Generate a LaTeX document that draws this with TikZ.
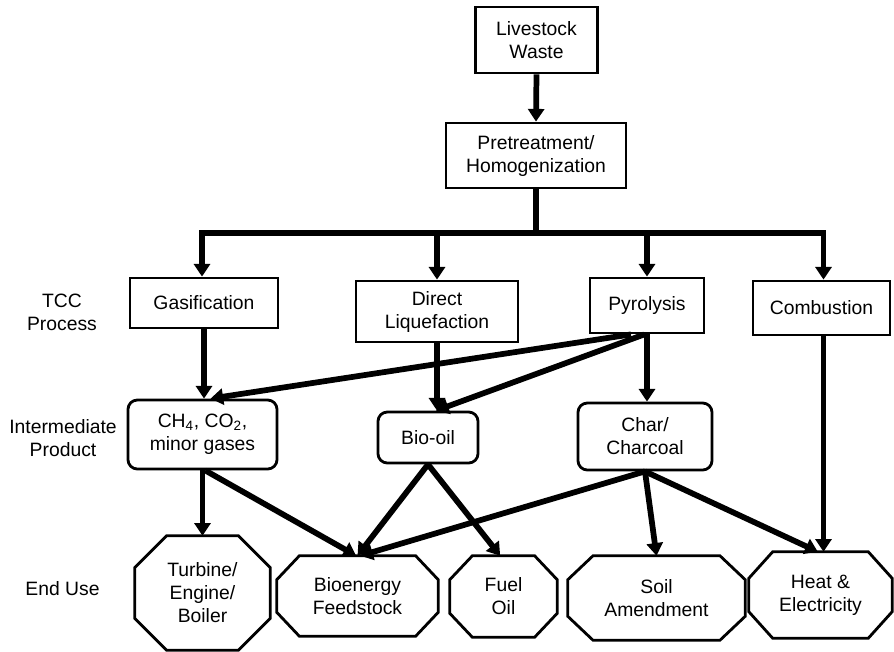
\documentclass[tikz,border=0pt]{standalone}
\usepackage{fontspec}
\setmainfont{Liberation Sans}
\usetikzlibrary{arrows.meta}

\tikzset{
  boxline/.style={line width=2.1pt, line join=miter},
  procbox/.style={draw, boxline},
  prodbox/.style={draw, boxline, rounded corners=7pt},
  usebox/.style={},
  conn/.style={line width=4.3pt, -{Triangle[width=12pt,length=9.5pt]}},
  plain/.style={line width=4.3pt},
  rowlabel/.style={}
}

% outline of an end-use node: rectangle with cut corners
\newcommand\cutbox[3]{%
  \draw[boxline] ([xshift=#2]#1.north west) -- ([xshift=-#2]#1.north east)
    -- ([yshift=-#3]#1.north east) -- ([yshift=#3]#1.south east)
    -- ([xshift=-#2]#1.south east) -- ([xshift=#2]#1.south west)
    -- ([yshift=#3]#1.south west) -- ([yshift=-#3]#1.north west) -- cycle;}

\begin{document}
\begin{tikzpicture}[x=0.75pt,y=-0.75pt,
  every node/.style={font=\fontsize{14.5pt}{17.25pt}\selectfont, align=center, inner sep=0pt}]

\useasboundingbox (0,0) rectangle (894,651);

% feedstock and preparation
\node[procbox, minimum width=91.5pt, minimum height=49.5pt] (waste) at (536.5,40) {Livestock\\Waste};
\node[procbox, minimum width=135pt, minimum height=48.75pt] (pre) at (536,155.5) {Pretreatment/\\Homogenization};

% conversion processes
\node[procbox, minimum width=111pt, minimum height=37.5pt] (gas)  at (204,303)   {Gasification};
\node[procbox, minimum width=121.5pt, minimum height=45.75pt] (dl)   at (437,311.5) {Direct\\Liquefaction};
\node[procbox, minimum width=85.5pt, minimum height=41.25pt] (pyr)  at (647,305.5) {Pyrolysis};
\node[procbox, minimum width=102.75pt, minimum height=40.5pt] (comb) at (821.5,308) {Combustion};

% intermediate products
\node[prodbox, minimum width=111.75pt, minimum height=51.75pt] (gases) at (202.5,434.5) {CH\textsubscript{4}, CO\textsubscript{2},\\minor gases};
\node[prodbox, minimum width=75pt, minimum height=38.25pt] (oil)   at (428,437.5)   {Bio-oil};
\node[prodbox, minimum width=100.5pt, minimum height=50.25pt] (char)  at (645,436.5)   {Char/\\Charcoal};

% end uses
\node[usebox, minimum width=101.25pt, minimum height=85.5pt] (turb) at (202.5,593) {Turbine/\\Engine/\\Boiler};
\node[usebox, minimum width=120.75pt, minimum height=60pt]  (feed) at (357.5,596) {Bioenergy\\Feedstock};
\node[usebox, minimum width=80.25pt, minimum height=60.75pt]  (fuel) at (503.5,596.5) {Fuel\\Oil};
\node[usebox, minimum width=132.75pt, minimum height=63pt]  (soil) at (656.5,598) {Soil\\Amendment};
\node[usebox, minimum width=107.25pt, minimum height=64.5pt]  (heat) at (820.5,595) {Heat \&\\Electricity};
\cutbox{turb}{24pt}{24pt}
\cutbox{feed}{17pt}{18pt}
\cutbox{fuel}{17pt}{18pt}
\cutbox{soil}{19pt}{18pt}
\cutbox{heat}{18pt}{20pt}

% row labels
\node[rowlabel] (lbltcc) at (62,312) {TCC\\Process};
\node[rowlabel] (lblint) at (63,438) {Intermediate\\Product};
\node[rowlabel] (lblend) at (62.5,589) {End Use};

% distribution bar
\coordinate (bar) at (536,233);
\draw[conn] (waste.south) -- (pre.north);
\draw[plain] (pre.south) -- (bar);
\draw[conn] (bar) -| ([xshift=-1.5pt]gas.north);
\draw[conn] (bar) -| ([xshift=1.5pt]comb.north);
\draw[conn] (dl.north |- bar) -- (dl.north);
\draw[conn] (pyr.north |- bar) -- (pyr.north);

% processes to products
\draw[conn] (gas.south) -- (gas.south |- gases.north);
\draw[conn] (dl.south) -- (dl.south |- oil.north);
\draw[conn] ([xshift=-12pt]pyr.south) -- ([xshift=6pt]gases.north);
\draw[conn] ([xshift=-2pt]pyr.south) -- ([xshift=6pt]oil.north);
\draw[conn] (pyr.south) -- (pyr.south |- char.north);
\draw[conn] ([xshift=1.5pt]comb.south) -- ([xshift=1.5pt]comb.south |- heat.north);

% products to end uses
\draw[conn] (gases.south) -- (turb.north);
\draw[conn] ([xshift=2pt]gases.south) -- ([xshift=-1pt]feed.north);
\draw[conn] (oil.south) -- ([xshift=0pt]feed.north);
\draw[conn] (oil.south) -- ([xshift=-2.5pt]fuel.north);
\draw[conn] (char.south) -- ([xshift=2pt]feed.north);
\draw[conn] (char.south) -- (soil.north);
\draw[conn] (char.south) -- ([xshift=-2pt]heat.north);
\end{tikzpicture}
\end{document}
